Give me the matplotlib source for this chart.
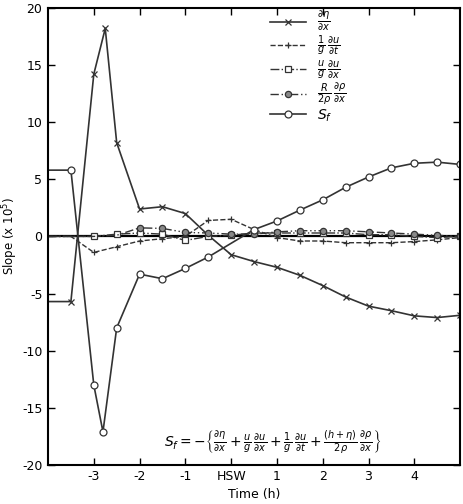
import numpy as np
import matplotlib.pyplot as plt

plt.rcParams['font.family'] = ['DejaVu Sans']
plt.rcParams['mathtext.fontset'] = 'dejavusans'
plt.rcParams['axes.unicode_minus'] = False

# 時刻 (h)
t_eta = [-4, -3.5, -3, -2.75, -2.5, -2, -1.5, -1, -0.5, 0, 0.5, 1, 1.5, 2, 2.5, 3, 3.5, 4, 4.5, 5]
eta_x = [-5.7, -5.7, 14.2, 18.2, 8.2, 2.4, 2.6, 2.0, 0.1, -1.6, -2.2, -2.7, -3.4, -4.3, -5.3, -6.1, -6.5, -6.95, -7.1, -6.9]

t_sf = [-4, -3.5, -3, -2.8, -2.5, -2, -1.5, -1, -0.5, 0.5, 1, 1.5, 2, 2.5, 3, 3.5, 4, 4.5, 5]
sf = [5.8, 5.8, -13.0, -17.1, -8.0, -3.3, -3.7, -2.8, -1.8, 0.6, 1.35, 2.3, 3.2, 4.3, 5.2, 6.0, 6.4, 6.5, 6.3]

t_small = [-4, -3.5, -3, -2.5, -2, -1.5, -1, -0.5, 0, 0.5, 1, 1.5, 2, 2.5, 3, 3.5, 4, 4.5, 5]
dudt = [0, 0, -1.4, -0.9, -0.4, -0.2, 0.0, 1.4, 1.5, 0.6, -0.1, -0.4, -0.4, -0.55, -0.55, -0.55, -0.45, -0.3, -0.1]
udux = [0, 0, 0, 0.2, 0.3, 0.2, -0.35, 0.0, 0.1, 0.3, 0.3, 0.3, 0.3, 0.3, 0.15, 0.15, 0.0, -0.1, 0.0]
rho_x = [0, 0, 0, 0.1, 0.75, 0.7, 0.35, 0.3, 0.2, 0.2, 0.4, 0.5, 0.5, 0.5, 0.4, 0.3, 0.2, 0.1, 0.0]

xticks = [-3, -2, -1, 0, 1, 2, 3, 4]
xticklabels = ['-3', '-2', '-1', 'HSW', '1', '2', '3', '4']
yticks = [-20, -15, -10, -5, 0, 5, 10, 15, 20]

fig = plt.figure(figsize=(4.63, 5.04), dpi=100)
ax = fig.add_axes([0.1037, 0.0774, 0.890, 0.907])

ax.axhline(0, color='k', lw=1.6, zorder=1)

ax.plot(t_eta, eta_x, '-', color='#333333', lw=1.2, marker='x', ms=4, mew=0.9,
        markevery=list(range(1, len(t_eta))),
        label=r'$\frac{\partial\eta}{\partial x}$')
ax.plot(t_small, dudt, '--', color='#333333', lw=1.0, marker='+', ms=5, mew=0.9,
        markevery=list(range(2, len(t_small))),
        label=r'$\frac{1}{g}\,\frac{\partial u}{\partial t}$')
ax.plot(t_small, udux, '-.', color='#333333', lw=1.0, marker='s', ms=4, mfc='white', mew=0.9,
        markevery=list(range(2, len(t_small))),
        label=r'$\frac{u}{g}\,\frac{\partial u}{\partial x}$')
ax.plot(t_small, rho_x, color='#333333', lw=1.0, ls=(0, (6, 2, 1, 2, 1, 2)),
        marker='o', ms=4.5, mfc='#888888', mew=0.9,
        markevery=list(range(4, len(t_small))),
        label=r'$\frac{R}{2\rho}\,\frac{\partial\rho}{\partial x}$')
ax.plot(t_sf, sf, '-', color='#333333', lw=1.2, marker='o', ms=5, mfc='white', mew=0.9,
        markevery=list(range(1, len(t_sf))),
        label=r'$S_f$')

ax.set_xlim(-4, 5)
ax.set_ylim(-20, 20)
ax.set_xticks(xticks)
ax.set_xticklabels(xticklabels)
ax.set_yticks(yticks)
ax.tick_params(direction='in', top=True, right=True, length=5, width=1, labelsize=9)
ax.tick_params(axis='y', pad=4)
for s in ax.spines.values():
    s.set_linewidth(1.5)

ax.set_xlabel('Time (h)', fontsize=9)
ax.set_ylabel(r'Slope (x 10$^5$)', fontsize=8.5)
ax.yaxis.set_label_coords(-0.068, 0.5)

ax.legend(loc='upper left', bbox_to_anchor=(0.539, 0.998), frameon=False,
          borderpad=0, borderaxespad=0, handlelength=2.6, handletextpad=0.8,
          labelspacing=0.0, fontsize=10)

ax.text(0.546, 0.05,
        r'$S_f = -\left\{\frac{\partial\eta}{\partial x} + \frac{u}{g}\,\frac{\partial u}{\partial x}'
        r' + \frac{1}{g}\,\frac{\partial u}{\partial t} + \frac{(h+\eta)}{2\rho}\,\frac{\partial\rho}{\partial x}\right\}$',
        transform=ax.transAxes, ha='center', va='center', fontsize=10)

fig.savefig('out.png', dpi=100)
